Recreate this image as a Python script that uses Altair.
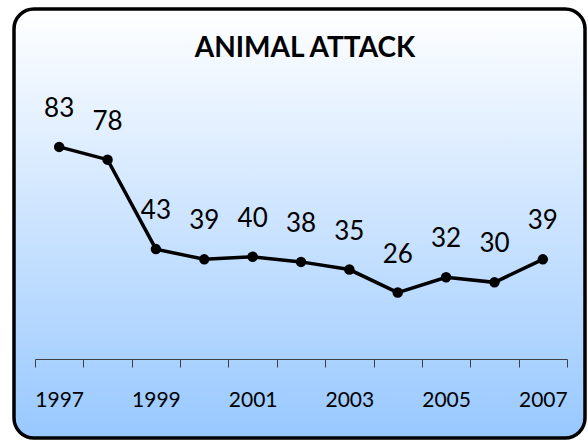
import altair as alt
import pandas as pd

years = ["1997", "1998", "1999", "2000", "2001", "2002", "2003", "2004", "2005", "2006", "2007"]
attacks = [83, 78, 43, 39, 40, 38, 35, 26, 32, 30, 39]
title_text = "ANIMAL ATTACK"

df = pd.DataFrame({"year": years, "attacks": attacks})

W, H = 532, 230
PAD = {"left": 35, "top": 129, "right": 21, "bottom": 82}

gradient = {
    "gradient": "linear",
    "x1": 0, "y1": 0, "x2": 0, "y2": 1,
    "stops": [
        {"offset": 0, "color": "#ffffff"},
        {"offset": 1, "color": "#98c8ff"},
    ],
}

one = pd.DataFrame({"t": [title_text]})

frame = alt.Chart(one).mark_rect(
    fill=gradient, stroke="black", strokeWidth=3.5, cornerRadius=20
).encode(
    x=alt.value(-21), x2=alt.value(550), y=alt.value(-120), y2=alt.value(309)
)

title = alt.Chart(one).mark_text(
    font="Lato", fontSize=28, fontWeight="bold", color="black",
    align="center", baseline="alphabetic"
).encode(text="t:N", x=alt.value(270), y=alt.value(-72))

xenc = alt.X(
    "year:O",
    sort=years,
    scale=alt.Scale(paddingInner=0, paddingOuter=0),
    axis=alt.Axis(
        title=None,
        tickBand="extent",
        labelAngle=0,
        labelFont="Lato",
        labelFontSize=21,
        labelColor="black",
        labelBaseline="alphabetic",
        labelPadding=39,
        labelOverlap=False,
        labelExpr="toNumber(datum.value) % 2 == 1 ? datum.label : ''",
        domainColor="#404040",
        domainWidth=1,
        tickColor="#404040",
        tickWidth=1,
        tickSize=8,
        grid=False,
        zindex=1,
    ),
)
yenc = alt.Y("attacks:Q", scale=alt.Scale(domain=[0, 90], nice=False, zero=True), axis=None)

base = alt.Chart(df).encode(x=xenc, y=yenc)
line = base.mark_line(color="black", strokeWidth=3.5)
pts = base.mark_point(filled=True, color="black", size=110, opacity=1)
labels = base.mark_text(
    font="Lato", fontSize=26, color="black", baseline="alphabetic", align="center", dy=-30
).encode(text="attacks:Q")

chart = alt.layer(frame, title, line, pts, labels).properties(
    width=W,
    height=H,
    padding=PAD,
    autosize=alt.AutoSizeParams(type="none"),
    background="white",
).configure_view(stroke=None)

chart.save("out.html", embed_options={"renderer": "svg", "actions": False})
